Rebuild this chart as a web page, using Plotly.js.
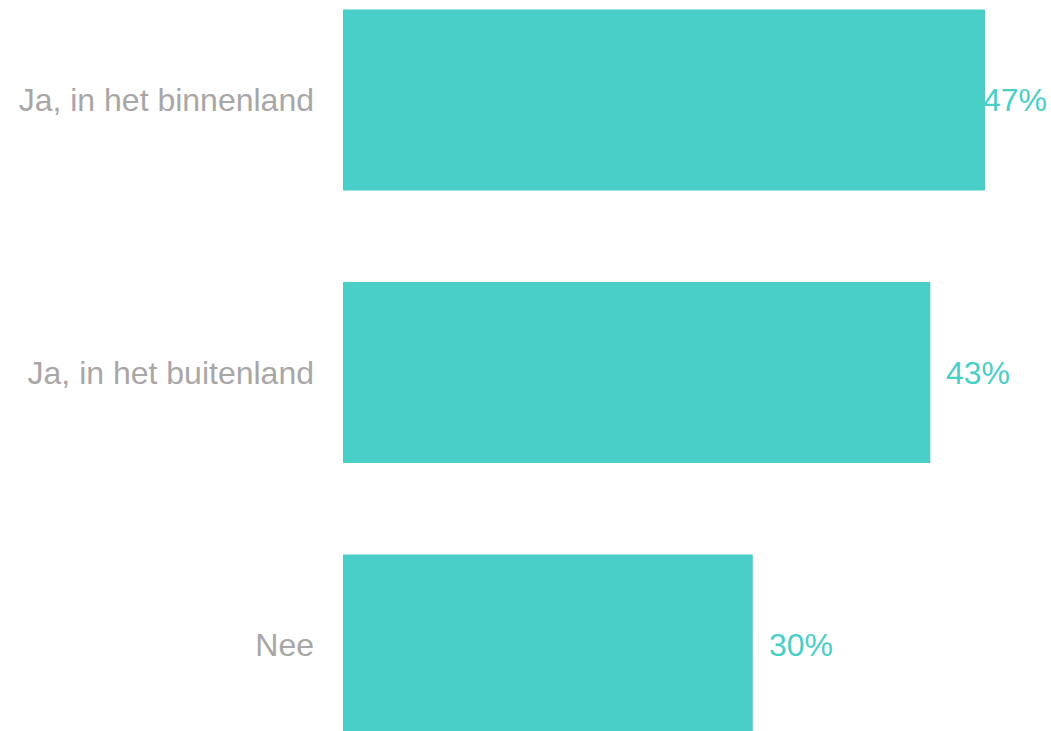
<!DOCTYPE html>
<html>
<head>
<meta charset="utf-8">
<script src="https://cdn.plot.ly/plotly-3.0.1.min.js"></script>
<style>
  html, body { margin: 0; padding: 0; background: #ffffff; overflow: hidden; }
  #chart { width: 1051px; height: 731px; }
</style>
</head>
<body>
<div id="chart"></div>
<script>
const categories = ["Ja, in het binnenland", "Ja, in het buitenland", "Nee"];
const values = [47, 43, 30];
const valueLabels = ["47%", "43%", "30%"];

const barColor = "#49cfc7";
const labelGray = "#a9a6a6";
const fontFamily = "'Liberation Sans', Arial, sans-serif";

const maxVal = Math.max.apply(null, values);

const trace = {
  type: "bar",
  orientation: "h",
  y: categories,
  x: values,
  marker: { color: barColor },
  width: 0.664,
  hoverinfo: "skip"
};

const annotations = values.map(function (v, i) {
  return {
    x: v,
    y: categories[i],
    xref: "x",
    yref: "y",
    text: valueLabels[i],
    showarrow: false,
    xanchor: "left",
    yanchor: "middle",
    xshift: v === maxVal ? -4 : 14,
    font: { family: fontFamily, size: 32, color: barColor }
  };
});

const layout = {
  width: 1051,
  height: 731,
  margin: { l: 343, r: 66, t: 0, b: 0, pad: 0 },
  paper_bgcolor: "#ffffff",
  plot_bgcolor: "#ffffff",
  showlegend: false,
  xaxis: {
    range: [0, maxVal],
    autorange: false,
    visible: false,
    showgrid: false,
    zeroline: false
  },
  yaxis: {
    type: "category",
    categoryorder: "array",
    categoryarray: categories,
    range: [2.3156, -0.367],
    autorange: false,
    showgrid: false,
    zeroline: false,
    showline: false,
    ticks: "",
    ticklabelstandoff: 28,
    tickfont: { family: fontFamily, size: 32, color: labelGray }
  },
  annotations: annotations
};

Plotly.newPlot("chart", [trace], layout, { displayModeBar: false, staticPlot: true });
</script>
</body>
</html>
